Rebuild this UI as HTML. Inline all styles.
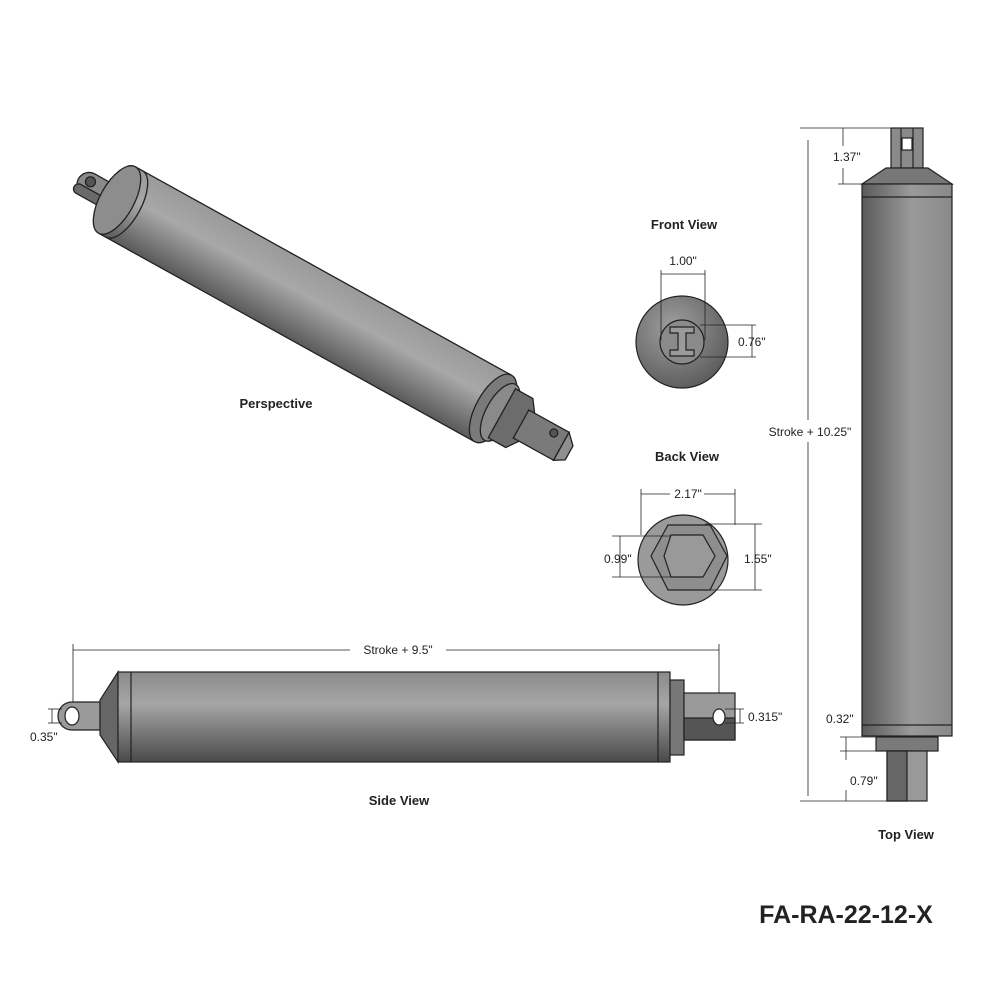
<!DOCTYPE html>
<html><head><meta charset="utf-8"><style>
html,body{margin:0;padding:0;background:#fff;}
svg{display:block;}
text{font-family:"Liberation Sans",sans-serif;fill:#222;}
</style></head><body>
<svg width="1000" height="1000" viewBox="0 0 1000 1000" xmlns="http://www.w3.org/2000/svg">
<defs>
<linearGradient id="gv" x1="0" y1="0" x2="0" y2="1">
<stop offset="0" stop-color="#8a8a8a"/><stop offset="0.35" stop-color="#a6a6a6"/><stop offset="1" stop-color="#4a4a4a"/>
</linearGradient>
<linearGradient id="gp" x1="0" y1="0" x2="0" y2="1">
<stop offset="0" stop-color="#9a9a9a"/><stop offset="0.4" stop-color="#a8a8a8"/><stop offset="1" stop-color="#5a5a5a"/>
</linearGradient>
<linearGradient id="gh" x1="0" y1="0" x2="1" y2="0">
<stop offset="0" stop-color="#5a5a5a"/><stop offset="0.55" stop-color="#9a9a9a"/><stop offset="1" stop-color="#8a8a8a"/>
</linearGradient>
<radialGradient id="gr" cx="0.4" cy="0.35" r="0.7">
<stop offset="0" stop-color="#a0a0a0"/><stop offset="1" stop-color="#5a5a5a"/>
</radialGradient>
</defs>

<!-- Perspective -->
<g transform="translate(117,200) rotate(29)" stroke="#222" stroke-width="1.3">
  <rect x="-44" y="-12" width="38" height="24" rx="12" fill="#8a8a8a"/>
  <rect x="-44" y="4" width="38" height="10" rx="5" fill="#6a6a6a"/>
  <circle cx="-32" cy="-3" r="5" fill="#555"/>
  <rect x="0" y="-38" width="430" height="76" fill="url(#gp)" stroke="none"/>
  <line x1="0" y1="-38" x2="430" y2="-38"/>
  <line x1="0" y1="38" x2="430" y2="38"/>
  <ellipse cx="0" cy="0" rx="17" ry="38" fill="#8d8d8d"/>
  <path d="M8,-38 A17,38 0 0 1 8,38" fill="none"/>
  <ellipse cx="430" cy="0" rx="17" ry="38" fill="#7a7a7a"/>
  <ellipse cx="438" cy="0" rx="14" ry="32" fill="#8a8a8a"/>
  <path d="M440,-28 L460,-28 L470,-14 L470,14 L460,28 L440,28 Z" fill="#6c6c6c"/>
  <rect x="462" y="-16" width="46" height="32" fill="#7a7a7a"/>
  <path d="M508,-16 L518,-6 L518,10 L508,16 Z" fill="#8f8f8f"/>
  <circle cx="495" cy="-8" r="4" fill="#555"/>
</g>
<text x="276" y="408" font-size="13" font-weight="bold" text-anchor="middle">Perspective</text>

<!-- Front view -->
<text x="684" y="229" font-size="13" font-weight="bold" text-anchor="middle">Front View</text>
<g stroke="#222" stroke-width="1.2">
<circle cx="682" cy="342" r="46" fill="url(#gr)"/>
<circle cx="682" cy="342" r="22" fill="#8a8a8a"/>
<path d="M670,327 H694 V333 H686 V350 H694 V356 H670 V350 H678 V333 H670 Z" fill="#9a9a9a"/>
<line x1="661" y1="270" x2="661" y2="340" stroke-width="0.8"/>
<line x1="705" y1="270" x2="705" y2="340" stroke-width="0.8"/>
<line x1="661" y1="274" x2="705" y2="274" stroke-width="0.8"/>
<line x1="700" y1="325" x2="756" y2="325" stroke-width="0.8"/>
<line x1="700" y1="357" x2="756" y2="357" stroke-width="0.8"/>
<line x1="752" y1="325" x2="752" y2="357" stroke-width="0.8"/>
</g>
<text x="683" y="265" font-size="12" text-anchor="middle">1.00"</text>
<text x="738" y="346" font-size="12">0.76"</text>

<!-- Back view -->
<text x="687" y="461" font-size="13" font-weight="bold" text-anchor="middle">Back View</text>
<g stroke="#222" stroke-width="1.2">
<circle cx="683" cy="560" r="45" fill="#9a9a9a"/>
<path d="M668,525 H710 L727,556 L710,590 H668 L651,556 Z" fill="#8e8e8e"/>
<path d="M671,535 H703 L715,556 L703,577 H671 L664,556 Z" fill="#999"/>
<g stroke-width="0.8">
<line x1="641" y1="489" x2="641" y2="535"/><line x1="735" y1="489" x2="735" y2="525"/>
<line x1="641" y1="494" x2="735" y2="494"/>
<line x1="612" y1="536" x2="671" y2="536"/><line x1="612" y1="577" x2="671" y2="577"/>
<line x1="620" y1="536" x2="620" y2="577"/>
<line x1="705" y1="524" x2="762" y2="524"/><line x1="705" y1="590" x2="762" y2="590"/>
<line x1="755" y1="524" x2="755" y2="590"/>
</g></g>
<rect x="670" y="486" width="34" height="14" fill="#fff"/>
<text x="688" y="498" font-size="12" text-anchor="middle">2.17"</text>
<text x="604" y="563" font-size="12">0.99"</text>
<text x="744" y="563" font-size="12">1.55"</text>

<!-- Side view -->
<g stroke="#222" stroke-width="1.2">
<g stroke-width="0.8">
<line x1="73" y1="644" x2="73" y2="708"/><line x1="719" y1="644" x2="719" y2="708"/>
<line x1="73" y1="650" x2="350" y2="650"/><line x1="446" y1="650" x2="719" y2="650"/>
</g>
<path d="M100,702 H72 A14,14 0 0 0 72,730 H100 Z" fill="#9a9a9a"/>
<ellipse cx="72" cy="716" rx="7" ry="9" fill="#fff"/>
<path d="M118,672 L100,700 L100,735 L118,762 Z" fill="#666"/>
<rect x="118" y="672" width="552" height="90" fill="url(#gv)"/>
<line x1="131" y1="672" x2="131" y2="762"/>
<line x1="658" y1="672" x2="658" y2="762"/>
<rect x="670" y="680" width="14" height="75" fill="#777"/>
<rect x="684" y="693" width="51" height="47" fill="#9a9a9a"/>
<rect x="684" y="718" width="51" height="22" fill="#555"/>
<ellipse cx="719" cy="717" rx="6" ry="8" fill="#fff"/>
<g stroke-width="0.8">
<line x1="48" y1="709" x2="62" y2="709"/><line x1="48" y1="723" x2="62" y2="723"/><line x1="52" y1="709" x2="52" y2="723"/>
<line x1="725" y1="709" x2="744" y2="709"/><line x1="725" y1="723" x2="744" y2="723"/><line x1="740" y1="709" x2="740" y2="723"/>
</g></g>
<text x="398" y="654" font-size="12" text-anchor="middle">Stroke + 9.5"</text>
<text x="30" y="741" font-size="12">0.35"</text>
<text x="748" y="721" font-size="12">0.315"</text>
<text x="399" y="805" font-size="13" font-weight="bold" text-anchor="middle">Side View</text>

<!-- Top view -->
<g stroke="#222" stroke-width="1.2">
<rect x="891" y="128" width="32" height="40" fill="#8a8a8a"/>
<line x1="901" y1="128" x2="901" y2="168"/><line x1="913" y1="128" x2="913" y2="168"/>
<rect x="902" y="138" width="10" height="12" fill="#fff"/>
<path d="M886,168 H928 L952,184 H862 Z" fill="#777"/>
<rect x="862" y="184" width="90" height="552" fill="url(#gh)"/>
<line x1="862" y1="197" x2="952" y2="197"/>
<line x1="862" y1="725" x2="952" y2="725"/>
<rect x="876" y="737" width="62" height="14" fill="#7a7a7a"/>
<rect x="887" y="751" width="40" height="50" fill="#999"/>
<rect x="887" y="751" width="20" height="50" fill="#666"/>
<g stroke-width="0.8">
<line x1="800" y1="128" x2="891" y2="128"/>
<line x1="800" y1="801" x2="887" y2="801"/>
<line x1="808" y1="140" x2="808" y2="420"/><line x1="808" y1="442" x2="808" y2="796"/>
<line x1="843" y1="128" x2="843" y2="146"/><line x1="843" y1="168" x2="843" y2="184"/>
<line x1="838" y1="184" x2="862" y2="184"/>
<line x1="840" y1="737" x2="876" y2="737"/><line x1="840" y1="751" x2="887" y2="751"/>
<line x1="846" y1="737" x2="846" y2="760"/><line x1="846" y1="790" x2="846" y2="801"/>
</g></g>
<text x="810" y="436" font-size="12" text-anchor="middle">Stroke + 10.25"</text>
<text x="833" y="161" font-size="12">1.37"</text>
<text x="826" y="723" font-size="12">0.32"</text>
<text x="850" y="785" font-size="12">0.79"</text>
<text x="906" y="839" font-size="13" font-weight="bold" text-anchor="middle">Top View</text>

<text x="846" y="923" font-size="25" font-weight="bold" text-anchor="middle" fill="#111">FA-RA-22-12-X</text>
</svg>
</body></html>
